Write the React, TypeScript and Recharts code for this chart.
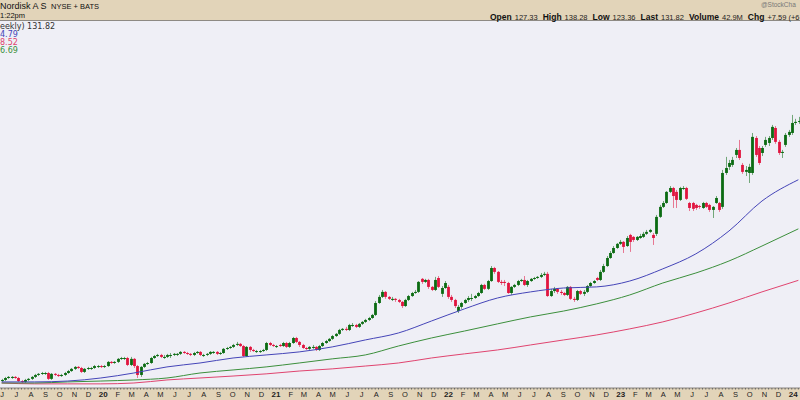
import React from 'react';
import { ComposedChart, Bar, Line, XAxis, YAxis } from 'recharts';

// weekly bars, one per week starting 31 May 2019
const weekOpen = [
  12.2, 12.7, 13.6, 13.6, 14.1, 13.6, 12.2, 11.8, 12.7, 13.2,
  14.1, 15.0, 15.5, 15.5, 15.9, 13.2, 15.5, 15.0, 14.5, 15.0,
  15.9, 16.8, 17.8, 18.7, 18.2, 16.4, 17.8, 17.8, 18.2, 18.7,
  19.1, 18.7, 19.1, 21.0, 20.5, 21.0, 22.4, 22.4, 22.8, 19.6,
  22.4, 19.1, 15.0, 18.7, 20.1, 20.5, 22.8, 23.7, 24.2, 22.8,
  23.3, 23.7, 24.2, 24.2, 24.7, 25.6, 25.1, 24.7, 24.2, 25.1,
  25.6, 23.7, 24.2, 24.7, 25.1, 25.6, 24.7, 25.1, 27.0, 27.4,
  27.9, 28.8, 29.3, 28.3, 23.7, 27.9, 26.5, 25.6, 25.6, 26.0,
  26.5, 29.7, 28.8, 27.9, 28.8, 28.3, 29.7, 27.9, 29.7, 32.0,
  30.2, 28.8, 27.4, 27.0, 27.4, 27.9, 26.5, 28.3, 29.7, 30.6,
  31.6, 32.9, 33.9, 35.7, 36.2, 35.7, 37.5, 38.0, 37.1, 38.5,
  39.4, 40.3, 41.2, 42.6, 48.1, 50.9, 53.2, 50.9, 49.5, 50.0,
  49.5, 48.6, 46.7, 49.5, 51.3, 52.7, 53.2, 59.2, 57.8, 58.7,
  55.5, 54.1, 59.6, 52.3, 55.0, 55.5, 50.9, 49.5, 44.4, 46.3,
  48.1, 49.5, 50.0, 50.4, 51.3, 52.7, 56.4, 54.6, 58.2, 64.2,
  62.4, 57.8, 57.8, 57.3, 52.7, 55.5, 56.4, 58.2, 58.7, 56.4,
  58.2, 59.2, 59.6, 60.1, 61.0, 61.5, 51.3, 53.6, 54.6, 53.2,
  52.7, 51.8, 55.5, 50.0, 49.5, 53.6, 52.3, 53.2, 55.9, 57.3,
  59.6, 58.7, 62.4, 65.1, 68.8, 71.1, 73.4, 75.3, 76.2, 74.3,
  79.4, 78.5, 77.1, 78.0, 78.5, 79.9, 80.8, 79.4, 79.9, 87.7,
  92.3, 94.1, 99.2, 101.0, 99.2, 95.5, 100.6, 101.0, 94.1, 94.1,
  93.2, 92.7, 91.8, 94.1, 93.2, 90.9, 94.1, 94.1, 92.3, 107.9,
  110.7, 111.6, 116.2, 118.5, 111.6, 108.4, 107.9, 107.9, 124.0, 119.4,
  117.1, 120.8, 121.7, 124.0, 128.6, 122.2, 117.1, 120.8, 125.4, 126.3,
  130.9, 131.4,
];

const weekHigh = [
  13.2, 14.1, 14.5, 14.5, 14.5, 14.1, 12.7, 13.2, 13.6, 14.5,
  15.5, 15.9, 16.4, 16.4, 16.4, 15.9, 15.9, 15.5, 15.5, 16.4,
  17.3, 18.2, 19.1, 19.1, 18.7, 18.2, 18.7, 18.7, 19.6, 19.6,
  19.6, 19.6, 21.4, 21.4, 21.4, 22.8, 23.3, 23.3, 23.3, 23.3,
  22.8, 19.6, 19.1, 20.5, 21.0, 23.3, 24.2, 24.7, 24.7, 24.2,
  24.7, 25.1, 25.1, 25.1, 26.0, 26.0, 25.6, 25.1, 25.6, 26.0,
  26.0, 24.7, 25.1, 26.0, 26.0, 26.0, 25.6, 27.4, 27.9, 28.3,
  29.3, 30.2, 29.7, 28.8, 28.3, 28.3, 27.0, 26.5, 26.5, 27.0,
  30.2, 30.2, 29.3, 28.8, 29.3, 30.2, 30.2, 30.2, 32.5, 32.5,
  30.6, 29.3, 27.9, 28.3, 28.8, 28.3, 28.8, 30.2, 31.1, 32.0,
  33.4, 34.3, 36.2, 36.6, 37.1, 38.5, 38.9, 38.5, 38.9, 39.8,
  40.8, 41.7, 43.1, 49.0, 51.8, 54.1, 53.6, 51.3, 50.9, 50.4,
  50.0, 49.0, 50.0, 51.8, 53.2, 54.1, 58.2, 59.6, 59.2, 59.2,
  55.9, 60.1, 60.5, 55.9, 58.2, 56.4, 51.8, 50.0, 47.2, 48.6,
  50.0, 51.3, 52.3, 51.8, 53.2, 56.9, 56.9, 58.7, 65.1, 64.7,
  62.8, 58.7, 58.7, 57.8, 55.9, 56.9, 58.7, 59.2, 60.5, 58.7,
  59.6, 60.1, 60.5, 61.9, 62.4, 62.4, 54.6, 55.5, 55.0, 54.1,
  53.2, 55.9, 55.9, 50.9, 54.1, 54.1, 54.1, 56.4, 57.8, 58.7,
  60.1, 63.3, 66.1, 69.7, 72.0, 74.3, 75.7, 77.1, 76.6, 78.9,
  79.9, 78.9, 78.9, 79.9, 80.8, 81.7, 82.2, 80.3, 88.6, 93.2,
  95.0, 99.6, 101.9, 101.5, 100.1, 101.5, 101.9, 101.5, 94.6, 94.6,
  93.7, 93.2, 94.6, 94.6, 93.7, 92.7, 97.3, 94.6, 109.3, 115.3,
  113.9, 115.3, 119.4, 123.1, 112.5, 111.1, 112.1, 126.3, 124.9, 120.3,
  120.3, 124.5, 124.9, 130.0, 129.5, 123.1, 118.5, 126.3, 127.7, 134.6,
  132.8, 133.7,
];

const weekLow = [
  11.8, 12.2, 13.2, 13.2, 13.2, 11.8, 11.3, 11.3, 12.2, 12.7,
  13.6, 14.5, 15.0, 15.0, 12.7, 12.7, 14.5, 14.1, 14.1, 14.5,
  15.5, 16.4, 17.3, 17.8, 15.9, 15.9, 17.3, 17.3, 17.8, 18.2,
  18.2, 18.2, 18.7, 20.1, 20.1, 20.5, 21.9, 21.9, 19.1, 19.1,
  18.2, 13.6, 14.1, 18.2, 19.6, 20.1, 22.4, 23.3, 22.8, 22.4,
  22.8, 22.8, 23.7, 23.7, 24.2, 24.7, 24.2, 23.7, 23.7, 24.7,
  23.7, 23.3, 23.7, 24.2, 24.7, 24.2, 24.2, 24.7, 26.5, 27.0,
  27.4, 28.3, 27.9, 23.3, 23.3, 25.6, 25.6, 25.1, 25.1, 25.6,
  26.0, 28.3, 27.9, 27.4, 27.9, 27.9, 27.4, 27.4, 29.3, 29.7,
  27.9, 27.0, 26.5, 26.5, 27.0, 26.0, 26.0, 27.9, 29.3, 30.2,
  31.1, 32.5, 33.4, 35.2, 35.2, 35.2, 37.1, 36.6, 36.6, 38.0,
  38.9, 39.8, 40.8, 42.1, 47.7, 50.4, 50.0, 49.5, 49.0, 48.6,
  48.1, 45.8, 46.3, 49.0, 50.9, 52.3, 52.7, 56.9, 57.3, 54.6,
  53.6, 53.6, 55.0, 50.9, 54.6, 50.0, 48.6, 45.8, 43.5, 45.4,
  47.7, 48.6, 49.0, 50.0, 50.9, 52.3, 54.1, 54.1, 57.8, 61.5,
  57.3, 56.4, 55.9, 52.3, 51.8, 55.0, 55.9, 57.8, 55.9, 55.5,
  57.8, 58.7, 59.2, 59.6, 60.5, 50.9, 50.9, 52.7, 52.3, 51.8,
  51.3, 51.3, 49.5, 48.6, 49.0, 51.8, 51.3, 52.7, 55.5, 56.9,
  58.2, 58.2, 61.9, 64.7, 68.4, 70.7, 73.0, 74.8, 71.1, 73.9,
  71.6, 76.2, 76.6, 77.6, 78.0, 79.4, 80.3, 74.8, 78.9, 87.2,
  91.8, 93.7, 98.7, 91.8, 91.8, 95.0, 100.1, 95.5, 90.4, 90.4,
  90.9, 91.4, 91.4, 91.8, 90.0, 87.2, 93.7, 90.0, 91.4, 107.0,
  109.3, 110.7, 114.8, 113.9, 107.5, 106.5, 103.3, 107.0, 115.3, 111.6,
  115.7, 119.9, 120.3, 123.1, 121.3, 116.2, 114.8, 119.9, 124.5, 125.4,
  130.0, 130.5,
];

const weekClose = [
  12.7, 13.6, 14.1, 14.1, 13.6, 12.2, 11.8, 12.7, 13.2, 14.1,
  15.0, 15.5, 15.9, 15.9, 13.2, 15.5, 15.0, 14.5, 15.0, 15.9,
  16.8, 17.8, 18.7, 18.2, 16.4, 17.8, 18.2, 18.2, 19.1, 19.1,
  18.7, 19.1, 21.0, 20.5, 21.0, 22.4, 22.8, 22.8, 19.6, 22.4,
  19.1, 15.0, 18.7, 20.1, 20.5, 22.8, 23.7, 24.2, 23.3, 23.3,
  24.2, 24.2, 24.7, 24.7, 25.6, 25.1, 24.7, 24.2, 25.1, 25.6,
  24.2, 24.2, 24.7, 25.6, 25.6, 24.7, 25.1, 27.0, 27.4, 27.9,
  28.8, 29.3, 28.3, 23.7, 27.9, 26.5, 26.0, 26.0, 26.0, 26.5,
  29.7, 28.8, 28.3, 28.3, 28.3, 29.7, 27.9, 29.7, 32.0, 30.2,
  28.8, 27.4, 27.0, 27.9, 27.9, 26.5, 28.3, 29.7, 30.6, 31.6,
  32.9, 33.9, 35.7, 36.2, 35.7, 38.0, 38.0, 37.1, 38.5, 39.4,
  40.3, 41.2, 42.6, 48.1, 50.9, 53.2, 50.9, 50.0, 50.0, 49.5,
  48.6, 46.7, 49.5, 51.3, 52.7, 53.2, 57.8, 57.8, 58.7, 55.5,
  54.1, 58.7, 55.5, 55.0, 57.3, 50.9, 49.5, 46.7, 46.3, 48.1,
  49.5, 50.4, 50.4, 51.3, 52.7, 56.4, 54.6, 58.2, 64.2, 62.4,
  57.8, 57.3, 57.3, 52.7, 55.5, 56.4, 58.2, 58.7, 56.4, 58.2,
  59.2, 59.6, 60.1, 61.0, 61.5, 51.3, 53.6, 54.6, 53.2, 52.7,
  51.8, 55.5, 50.0, 49.5, 53.6, 52.3, 53.2, 55.9, 57.3, 58.2,
  58.7, 62.4, 65.1, 68.8, 71.1, 73.4, 75.3, 76.2, 73.9, 78.0,
  76.2, 77.1, 78.5, 78.9, 79.9, 80.8, 81.7, 78.0, 87.7, 92.3,
  94.1, 99.2, 101.0, 97.3, 95.5, 101.0, 101.0, 96.0, 91.8, 91.4,
  91.8, 92.3, 94.1, 92.3, 90.9, 92.3, 96.4, 90.9, 107.9, 110.2,
  112.5, 113.9, 118.5, 114.8, 108.4, 109.3, 110.7, 124.5, 116.2, 112.5,
  119.4, 123.1, 124.0, 129.1, 122.2, 117.1, 117.6, 125.4, 126.8, 130.9,
  131.4, 131.82,
];

// moving averages, read every 10th week
const maWeeks = [0, 10, 20, 30, 40, 50, 60, 70, 80, 90, 100, 110, 120, 130, 140, 150, 160, 170, 180, 190, 200, 210, 220, 230, 241];
const sma50 = [11.8, 11.8, 12.2, 13.6, 15.9, 18.7, 20.5, 22.8, 24.2, 25.6, 27.9, 31.1, 34.3, 39.8, 45.4, 50.4, 53.2, 55.0, 55.5, 58.2, 63.8, 70.7, 81.2, 95.0, 104.79];
const sma100 = [11.3, 11.3, 11.8, 12.2, 12.7, 13.6, 15.9, 17.3, 18.7, 20.5, 22.4, 24.2, 28.3, 32.0, 35.2, 38.5, 41.7, 44.4, 47.7, 51.8, 57.3, 61.9, 67.4, 74.3, 82.2];
const sma200 = [11.3, 10.9, 10.9, 10.9, 11.3, 12.7, 13.6, 14.5, 15.5, 16.8, 17.8, 19.1, 20.5, 22.8, 24.7, 26.5, 28.8, 31.1, 33.4, 36.2, 39.4, 43.5, 48.1, 53.2, 58.52];

const monthLetters = ['J', 'F', 'M', 'A', 'M', 'J', 'J', 'A', 'S', 'O', 'N', 'D'];

const UP = '#0b6b12';
const DOWN = '#e0143f';
const TAN = '#e2d4b9';
const PLOT_BG = '#efeff6';
const BLUE = '#4545b8';
const GREEN = '#3c8f3c';
const RED = '#e0446f';

const rows = weekClose.map((close, i) => {
  const m = maWeeks.indexOf(i);
  return {
    i,
    date: new Date(2019, 4, 31 + i * 7),
    open: weekOpen[i],
    high: weekHigh[i],
    low: weekLow[i],
    close,
    range: [weekLow[i], weekHigh[i]],
    sma50: m >= 0 ? sma50[m] : null,
    sma100: m >= 0 ? sma100[m] : null,
    sma200: m >= 0 ? sma200[m] : null,
  };
});

const monthStart = new Set(
  rows.filter((r, i) => i > 0 && r.date.getMonth() !== rows[i - 1].date.getMonth()).map((r) => r.i)
);
const allWeeks = rows.map((r) => r.i);
const BAND = 800 / rows.length;

const Candle = (props: any) => {
  const { x, y, width, height, payload } = props;
  const { open, close, high, low } = payload;
  const color = close >= open ? UP : DOWN;
  const cx = Math.round(x + width / 2) + 0.5;
  const k = height / (high - low);
  const yO = y + (high - open) * k;
  const yC = y + (high - close) * k;
  const top = Math.min(yO, yC);
  const h = Math.max(Math.abs(yC - yO), 1);
  return (
    <g>
      <line x1={cx} x2={cx} y1={y} y2={y + height} stroke={color} strokeOpacity={0.55} strokeWidth={1} />
      <rect x={cx - 1.4} y={top} width={2.8} height={h} fill={color} />
    </g>
  );
};

const WeekTick = (props: any) => {
  const { x, y, payload } = props;
  const r = rows[payload.value];
  if (!r) return null;
  let label = null;
  if (monthStart.has(r.i)) {
    const mo = r.date.getMonth();
    const lx = x - ((r.date.getDate() - 1) / 7) * BAND;
    const isYear = mo === 0;
    label = (
      <text
        x={lx}
        y={y + 9}
        textAnchor="middle"
        fontSize={isYear ? 8 : 7.5}
        fontWeight={isYear ? 'bold' : 'normal'}
        fontFamily="Liberation Sans, Arial, sans-serif"
        fill="#222"
      >
        {isYear ? String(r.date.getFullYear()).slice(2) : monthLetters[mo]}
      </text>
    );
  }
  return (
    <g>
      <line x1={x} x2={x} y1={y} y2={y + 1.5} stroke="#666" />
      {label}
    </g>
  );
};

const hdrLabel: React.CSSProperties = { fontWeight: 'bold', fontSize: 8.5, color: '#111' };
const hdrValue: React.CSSProperties = { fontSize: 7.5, color: '#222', marginLeft: 3, marginRight: 5 };

export default function App() {
  return (
    <div
      style={{
        position: 'absolute',
        left: 0,
        top: 0,
        width: 800,
        height: 400,
        overflow: 'hidden',
        background: PLOT_BG,
        fontFamily: 'Liberation Sans, Arial, sans-serif',
      }}
    >
      {/* title band */}
      <div style={{ position: 'absolute', left: 0, top: 0, width: 800, height: 20, background: TAN, borderBottom: '1px solid #8e8a84' }}>
        <div style={{ position: 'absolute', left: 0, top: 1, fontSize: 9, color: '#111', whiteSpace: 'nowrap' }}>
          Nordisk A S <span style={{ fontSize: 7.5, marginLeft: 2 }}>NYSE + BATS</span>
        </div>
        <div style={{ position: 'absolute', left: 0, top: 11, fontSize: 7.5, color: '#111' }}>1:22pm</div>
        <div style={{ position: 'absolute', left: 761, top: 1, fontSize: 6.5, color: '#777', whiteSpace: 'nowrap' }}>@StockCha</div>
        <div style={{ position: 'absolute', left: 490, top: 10, whiteSpace: 'nowrap', lineHeight: '10px' }}>
          <span style={hdrLabel}>Open</span><span style={hdrValue}>127.33</span>
          <span style={hdrLabel}>High</span><span style={hdrValue}>138.28</span>
          <span style={hdrLabel}>Low</span><span style={hdrValue}>123.36</span>
          <span style={hdrLabel}>Last</span><span style={hdrValue}>131.82</span>
          <span style={hdrLabel}>Volume</span><span style={hdrValue}>42.9M</span>
          <span style={hdrLabel}>Chg</span><span style={{ ...hdrValue, marginRight: 0 }}>+7.59 (+6</span>
        </div>
      </div>

      {/* date band */}
      <div style={{ position: 'absolute', left: 0, top: 388, width: 800, height: 12, background: TAN }} />

      {/* legend */}
      <div style={{ position: 'absolute', left: 0, top: 23, fontFamily: 'DejaVu Sans, sans-serif', fontSize: 8, lineHeight: '8px', whiteSpace: 'nowrap' }}>
        <div style={{ color: '#333' }}>eekly) 131.82</div>
        <div style={{ color: BLUE }}>4.79</div>
        <div style={{ color: RED }}>8.52</div>
        <div style={{ color: GREEN }}>6.69</div>
      </div>

      <div style={{ position: 'absolute', left: 0, top: 0 }}>
        <ComposedChart width={800} height={400} data={rows} margin={{ top: 21, right: 0, bottom: 0, left: 0 }}>
          <XAxis
            dataKey="i"
            type="category"
            ticks={allWeeks}
            interval={0}
            height={12}
            tickSize={0}
            tickMargin={0}
            tickLine={false}
            axisLine={{ stroke: '#8a8580' }}
            tick={<WeekTick />}
          />
          <YAxis hide type="number" domain={[9, 177.8]} allowDataOverflow />
          <Line type="monotone" dataKey="sma200" stroke={RED} strokeWidth={1} dot={false} connectNulls isAnimationActive={false} />
          <Line type="monotone" dataKey="sma100" stroke={GREEN} strokeWidth={1} dot={false} connectNulls isAnimationActive={false} />
          <Line type="monotone" dataKey="sma50" stroke={BLUE} strokeWidth={1} dot={false} connectNulls isAnimationActive={false} />
          <Bar dataKey="range" shape={<Candle />} isAnimationActive={false} />
        </ComposedChart>
      </div>
    </div>
  );
}
